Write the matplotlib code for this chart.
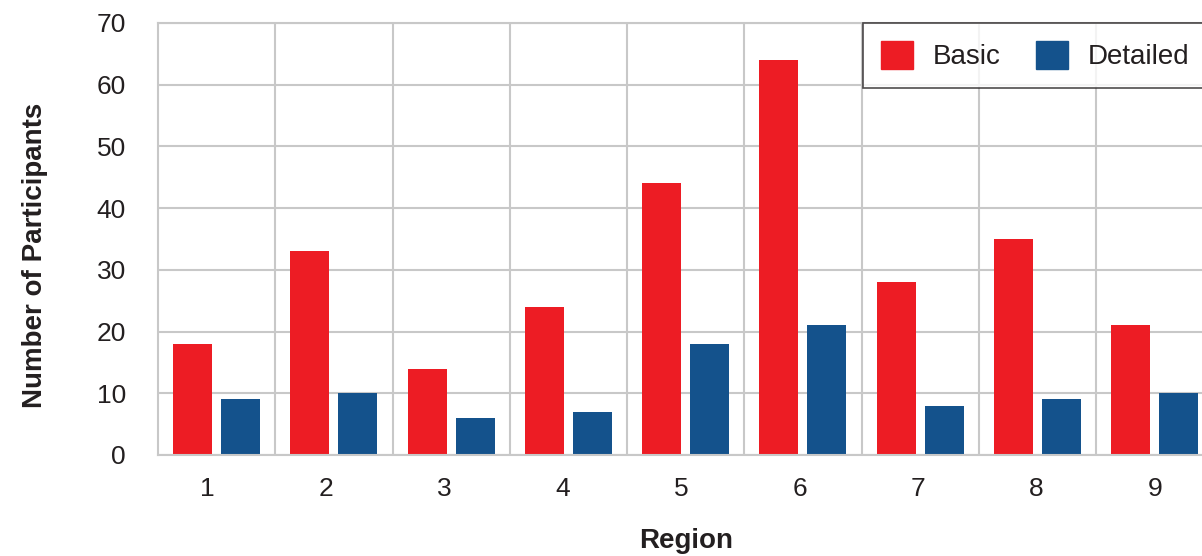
import matplotlib.pyplot as plt
from matplotlib.patches import Patch
import numpy as np

# --- DATA ---

regions = ['1', '2', '3', '4', '5', '6', '7', '8', '9']
basic = [18, 33, 14, 24, 44, 64, 28, 35, 21]
detailed = [9, 10, 6, 7, 18, 21, 8, 9, 10]

RED = '#ED1C24'
BLUE = '#14528C'
GRID = '#C8C8C8'
TXT = '#231F20'

plt.rcParams['font.family'] = ['Liberation Sans', 'DejaVu Sans']

# --- PLOT ---

fig = plt.figure(figsize=(12.02, 5.56), dpi=100)
ax = fig.add_axes([158 / 1202, 101 / 556, 1055.25 / 1202, 432 / 556])

x = np.arange(len(regions))
w = 0.333
ax.bar(x - 0.205, basic, width=w, color=RED, zorder=2)
ax.bar(x + 0.205, detailed, width=w, color=BLUE, zorder=2)

ax.set_xlim(-0.5, len(regions) - 0.5)
ax.set_ylim(0, 70)
ax.set_yticks(range(0, 71, 10))
# labels in the source sit slightly left of the group centres, drifting right
ax.set_xticks(x * 1.0107 - 0.082)
ax.set_xticklabels(regions)
ax.set_xticks(x[:-1] + 0.5, minor=True)

ax.set_axisbelow(True)
ax.grid(axis='y', color=GRID, linewidth=1.5)
ax.grid(axis='x', which='minor', color=GRID, linewidth=1.5)
ax.grid(axis='x', which='major', visible=False)
for s in ax.spines.values():
    s.set_color(GRID)
    s.set_linewidth(1.5)

ax.tick_params(axis='both', which='both', length=0, labelsize=19, colors=TXT)
ax.tick_params(axis='y', pad=23)
ax.tick_params(axis='x', pad=16)

ax.set_ylabel('Number of Participants', fontsize=20, fontweight='bold', color=TXT)
ax.set_xlabel('Region', fontsize=20, fontweight='bold', color=TXT)
ax.yaxis.set_label_coords(-0.117, 0.463)
ax.xaxis.set_label_coords(0.5, -0.199)
ax.yaxis.label.set_va('center')
ax.xaxis.label.set_va('center')

handles = [Patch(color=RED, label='Basic'), Patch(color=BLUE, label='Detailed')]
leg = fig.legend(handles=handles, loc='upper left', bbox_to_anchor=(863 / 1202, 1 - 23 / 556),
                 ncol=2, fontsize=20, frameon=True, fancybox=False, borderaxespad=0,
                 handlelength=1.15, handleheight=1.15, handletextpad=0.7,
                 columnspacing=1.3, borderpad=0.65)
leg.get_frame().set_edgecolor('#231F20')
leg.get_frame().set_linewidth(1.2)
for t in leg.get_texts():
    t.set_color(TXT)

plt.savefig('out.png', dpi=100)
plt.close()
